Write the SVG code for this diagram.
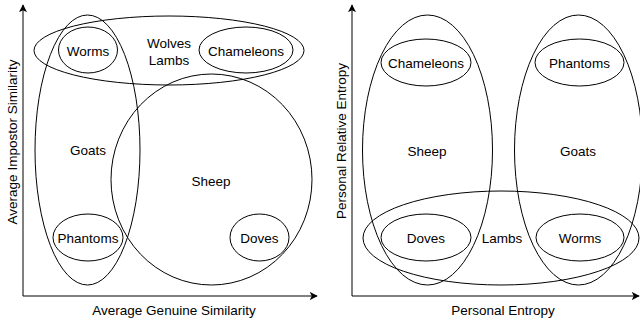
<svg xmlns="http://www.w3.org/2000/svg" width="640" height="320" viewBox="0 0 640 320">
<defs>
<marker id="arr" viewBox="0 0 10 10" refX="9" refY="5" markerWidth="8" markerHeight="8" markerUnits="userSpaceOnUse" orient="auto">
<path d="M0,0 L10,5 L0,10 L2.5,5 Z" fill="#000"/>
</marker>
</defs>
<style>
.s{fill:none;stroke:#000;stroke-width:1}
.t{font-family:"Liberation Sans",Arial,sans-serif;font-size:13.5px;fill:#000;text-anchor:middle;dominant-baseline:central}
</style>
<rect width="640" height="320" fill="#fff"/>
<g id="connectors">
<path class="s" d="M23,296 V5" marker-end="url(#arr)"/>
<path class="s" d="M23,296 H317" marker-end="url(#arr)"/>
<path class="s" d="M352,296 V5" marker-end="url(#arr)"/>
<path class="s" d="M352,296 H639" marker-end="url(#arr)"/>
</g>
<g id="left-labels">
<text class="t" transform="translate(12,142) rotate(-90)">Average Impostor Similarity</text>
<text class="t" x="174" y="310">Average Genuine Similarity</text>
</g>
<g id="left-wolves-lambs"><ellipse class="s" cx="169" cy="50.5" rx="135" ry="34.5"/><text class="t" x="169" y="43">Wolves</text><text class="t" x="169" y="60">Lambs</text></g>
<g id="left-worms"><ellipse class="s" cx="88" cy="50" rx="29.5" ry="23"/><text class="t" x="88" y="51">Worms</text></g>
<g id="left-chameleons"><ellipse class="s" cx="246" cy="50" rx="47" ry="23"/><text class="t" x="246" y="51">Chameleons</text></g>
<g id="left-goats"><ellipse class="s" cx="87.5" cy="150" rx="52.5" ry="135"/><text class="t" x="88" y="150">Goats</text></g>
<g id="left-phantoms"><ellipse class="s" cx="88" cy="237.5" rx="35" ry="23.5"/><text class="t" x="88" y="238">Phantoms</text></g>
<g id="left-sheep"><ellipse class="s" cx="211.5" cy="179.5" rx="100.5" ry="105.5"/><text class="t" x="211" y="181">Sheep</text></g>
<g id="left-doves"><ellipse class="s" cx="259.5" cy="237.5" rx="29.5" ry="23.5"/><text class="t" x="259.5" y="238">Doves</text></g>
<g id="right-labels">
<text class="t" transform="translate(341,141) rotate(-90)">Personal Relative Entropy</text>
<text class="t" x="503" y="310">Personal Entropy</text>
</g>
<g id="right-sheep"><ellipse class="s" cx="427.5" cy="150" rx="65" ry="135"/><text class="t" x="427" y="151">Sheep</text></g>
<g id="right-goats"><ellipse class="s" cx="578.5" cy="150" rx="64" ry="135"/><text class="t" x="578" y="151">Goats</text></g>
<g id="right-chameleons"><ellipse class="s" cx="426" cy="62.5" rx="45" ry="23.5"/><text class="t" x="426" y="63">Chameleons</text></g>
<g id="right-phantoms"><ellipse class="s" cx="579.5" cy="62.5" rx="44.5" ry="23.5"/><text class="t" x="579.5" y="63">Phantoms</text></g>
<g id="right-lambs"><ellipse class="s" cx="501" cy="238" rx="138" ry="47"/><text class="t" x="502" y="238">Lambs</text></g>
<g id="right-doves"><ellipse class="s" cx="426" cy="237.5" rx="45" ry="23.5"/><text class="t" x="426" y="238">Doves</text></g>
<g id="right-worms"><ellipse class="s" cx="580" cy="237.5" rx="44" ry="23.5"/><text class="t" x="580" y="238">Worms</text></g>
</svg>
